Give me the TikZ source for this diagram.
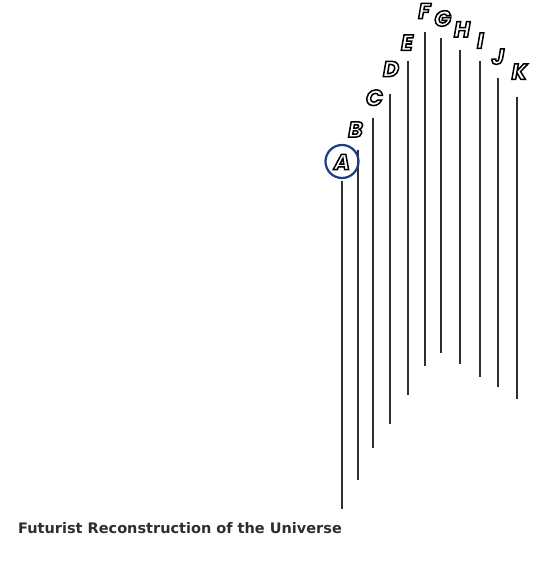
\documentclass[tikz,border=0pt]{standalone}
\usepackage{fontspec}
\setmainfont{DejaVu Sans}
\newfontfamily\letterfont{Poppins}
\definecolor{linegray}{HTML}{2E2E2E}
\definecolor{circblue}{HTML}{1F3A8A}
\newcommand{\outl}[1]{\color{white}\special{pdf:literal direct 2 Tr 1.5 w 0 G}#1\special{pdf:literal direct 0 Tr 0 w}}
\begin{document}
\begin{tikzpicture}[x=1pt,y=-1pt,
  stem/.style={draw=linegray,line width=1.8pt},
  letter/.style={font=\letterfont\bfseries\itshape\fontsize{22}{22}\selectfont,inner sep=0pt},
  ring/.style={draw=circblue,line width=2.2pt,circle,minimum size=33pt,inner sep=0pt}]
\useasboundingbox (0,0) rectangle (540,573);
% stems
\foreach \n/\x/\t/\b in {A/342/181/509, B/357.7/150/480, C/373/117.7/448.3, D/390/94/424.3, E/407.7/60.7/395, F/425.3/32/366, G/441.3/38.3/352.7, H/460.3/50.3/364, I/479.7/60.7/377, J/498.3/78.3/386.7, K/516.7/96.7/399.3}{
  \coordinate (t\n) at (\x,\t);
  \coordinate (b\n) at (\x,\b);
  \draw[stem] (t\n) -- (b\n);
}
% letters
\foreach \n/\x/\y in {A/342/162, B/355.5/129.5, C/374.3/97.7, D/391/69, E/407/42.7, F/424.3/11, G/442.7/18.5, H/462/29.3, I/480.3/40.7, J/498/56.7, K/519.3/71.7}{
  \node[letter] (l\n) at (\x,\y) {\outl{\n}};
}
\node[ring] (ringA) at (342,161.5) {};
\node[font=\bfseries\fontsize{14.5}{14.5}\selectfont,text=linegray,anchor=west,inner sep=0pt] (title) at (18,528) {Futurist Reconstruction of the Universe};
\end{tikzpicture}
\end{document}
